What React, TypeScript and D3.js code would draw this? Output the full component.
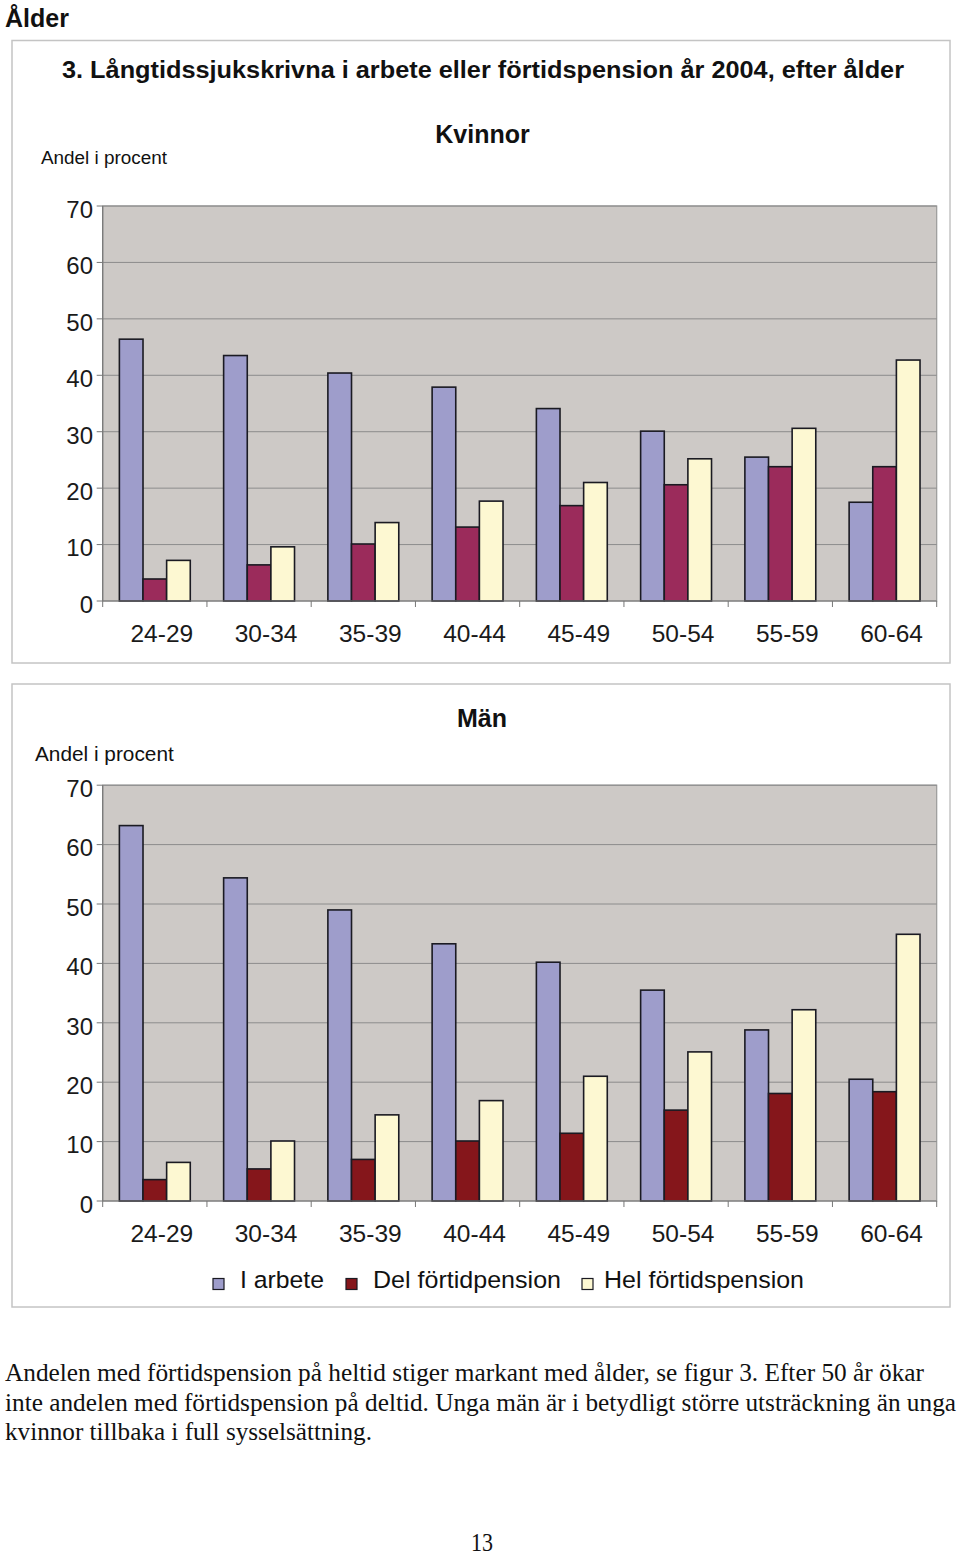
import React from "react";
import * as d3 from "d3";

const categories = ["24-29", "30-34", "35-39", "40-44", "45-49", "50-54", "55-59", "60-64"];
const seriesNames = ["I arbete", "Del förtidpension", "Hel förtidspension"];

const womenArbete = [46.4, 43.5, 40.4, 37.9, 34.1, 30.1, 25.5, 17.5];
const womenDel = [3.9, 6.4, 10.1, 13.1, 16.9, 20.6, 23.8, 23.8];
const womenHel = [7.2, 9.6, 13.9, 17.7, 21.0, 25.2, 30.6, 42.7];

const menArbete = [63.2, 54.4, 49.0, 43.3, 40.2, 35.5, 28.8, 20.5];
const menDel = [3.6, 5.4, 7.0, 10.1, 11.4, 15.3, 18.1, 18.4];
const menHel = [6.5, 10.1, 14.5, 16.9, 21.0, 25.1, 32.2, 44.9];

const yTicks = [0, 10, 20, 30, 40, 50, 60, 70];

const bodyLines = [
  "Andelen med förtidspension på heltid stiger markant med ålder, se figur 3. Efter 50 år ökar",
  "inte andelen med förtidspension på deltid. Unga män är i betydligt större utsträckning än unga",
  "kvinnor tillbaka i full sysselsättning.",
];

const COL_ARBETE = "#9e9dcb";
const COL_DEL_W = "#9b2b5b";
const COL_DEL_M = "#85161b";
const COL_HEL = "#fdf8d2";
const PLOT_BG = "#cdc9c6";
const GRID = "#8c8c8c";
const SANS = "'Liberation Sans', Arial, sans-serif";

type PanelProps = {
  top: number;
  bottom: number;
  values: number[][];
  colors: string[];
};

function Panel({ top, bottom, values, colors }: PanelProps) {
  const left = 102.7;
  const right = 936.7;
  const y = d3.scaleLinear().domain([0, 70]).range([bottom, top]);
  const x = d3.scaleBand<string>().domain(categories).range([left, right]).paddingInner(0).paddingOuter(0);
  const bw = x.bandwidth();
  const groupW = bw * 0.68;
  const inner = d3
    .scaleBand<number>()
    .domain([0, 1, 2])
    .range([(bw - groupW) / 2, (bw + groupW) / 2]);
  return (
    <g>
      <rect x={left} y={top} width={right - left} height={bottom - top} fill={PLOT_BG} stroke="#9a9a9a" strokeWidth={1.2} />
      {yTicks.slice(1).map((t) => (
        <line key={"g" + t} x1={left} x2={right} y1={y(t)} y2={y(t)} stroke={GRID} strokeWidth={1} />
      ))}
      {yTicks.map((t) => (
        <g key={"yt" + t}>
          <line x1={left - 6} x2={left} y1={y(t)} y2={y(t)} stroke="#777" strokeWidth={1} />
          <text x={93} y={y(t) + 11.8} textAnchor="end" fontFamily={SANS} fontSize={24} fill="#1a1a1a">
            {t}
          </text>
        </g>
      ))}
      {categories.map((c, i) =>
        values.map((vals, s) => {
          const v = vals[i];
          const bx = (x(c) as number) + (inner(s) as number);
          return (
            <rect
              key={c + s}
              x={bx}
              y={y(v)}
              width={inner.bandwidth()}
              height={y(0) - y(v)}
              fill={colors[s]}
              stroke="#1a1a22"
              strokeWidth={1.6}
            />
          );
        })
      )}
      <line x1={left} x2={left} y1={top} y2={bottom} stroke="#777" strokeWidth={1.2} />
      <line x1={left} x2={right} y1={bottom} y2={bottom} stroke="#777" strokeWidth={1.2} />
      {categories.concat(["end"]).map((c, i) => {
        const xx = left + i * bw;
        return <line key={"xt" + i} x1={xx} x2={xx} y1={bottom} y2={bottom + 6} stroke="#777" strokeWidth={1} />;
      })}
      {categories.map((c) => (
        <text
          key={"xl" + c}
          x={(x(c) as number) + bw / 2 + 7}
          y={bottom + 40.5}
          textAnchor="middle"
          fontFamily={SANS}
          fontSize={24.5}
          fill="#1a1a1a"
        >
          {c}
        </text>
      ))}
    </g>
  );
}

export default function App() {
  const legendItems = [
    { sq: 213, tx: 240, w: 84, color: COL_ARBETE },
    { sq: 346, tx: 373, w: 188, color: COL_DEL_M },
    { sq: 582, tx: 604, w: 200, color: COL_HEL },
  ];
  return (
    <svg width={960} height={1555} style={{ position: "absolute", left: 0, top: 0, background: "#fff" }}>
      <rect x={0} y={0} width={960} height={1555} fill="#fff" />
      <text x={5} y={27} fontFamily={SANS} fontWeight="bold" fontSize={25} fill="#111">
        Ålder
      </text>

      {/* Frame 1 */}
      <rect x={12} y={40.5} width={938} height={622.5} fill="#fff" stroke="#c4c4c4" strokeWidth={1.5} />
      <text x={62} y={78} fontFamily={SANS} fontWeight="bold" fontSize={23.5} fill="#111" textLength={842} lengthAdjust="spacingAndGlyphs">
        3. Långtidssjukskrivna i arbete eller förtidspension år 2004, efter ålder
      </text>
      <text x={482.5} y={143} textAnchor="middle" fontFamily={SANS} fontWeight="bold" fontSize={25} fill="#111">
        Kvinnor
      </text>
      <text x={41} y={164} fontFamily={SANS} fontSize={18.9} fill="#111">
        Andel i procent
      </text>
      <Panel top={206} bottom={601} values={[womenArbete, womenDel, womenHel]} colors={[COL_ARBETE, COL_DEL_W, COL_HEL]} />

      {/* Frame 2 */}
      <rect x={12} y={684} width={938} height={623} fill="#fff" stroke="#c4c4c4" strokeWidth={1.5} />
      <text x={482} y={727} textAnchor="middle" fontFamily={SANS} fontWeight="bold" fontSize={25} fill="#111">
        Män
      </text>
      <text x={35} y={761} fontFamily={SANS} fontSize={20.8} fill="#111">
        Andel i procent
      </text>
      <Panel top={785.2} bottom={1201} values={[menArbete, menDel, menHel]} colors={[COL_ARBETE, COL_DEL_M, COL_HEL]} />

      {legendItems.map((it, i) => (
        <g key={"lg" + i}>
          <rect x={it.sq} y={1278.5} width={11} height={11} fill={it.color} stroke="#1a1a22" strokeWidth={1.2} />
          <text x={it.tx} y={1288} fontFamily={SANS} fontSize={24.5} fill="#111" textLength={it.w} lengthAdjust="spacingAndGlyphs">
            {seriesNames[i]}
          </text>
        </g>
      ))}

      {bodyLines.map((l, i) => (
        <text
          key={"b" + i}
          x={5}
          y={1381 + i * 29.5}
          fontFamily="'Liberation Serif', 'Times New Roman', serif"
          fontSize={25}
          fill="#111"
          textLength={i === 0 ? 919 : i === 1 ? 951 : 367}
          lengthAdjust="spacingAndGlyphs"
        >
          {l}
        </text>
      ))}
      <text x={482} y={1551} textAnchor="middle" fontFamily="'Liberation Serif', 'Times New Roman', serif" fontSize={25} fill="#111" textLength={22} lengthAdjust="spacingAndGlyphs">
        13
      </text>
    </svg>
  );
}
